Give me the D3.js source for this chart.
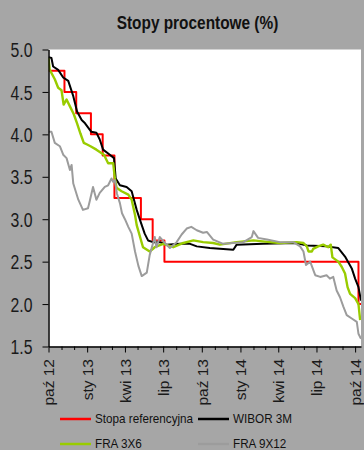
<!DOCTYPE html>
<html lang="pl">
<head>
<meta charset="UTF-8">
<title>Stopy procentowe (%)</title>
<script src="https://d3js.org/d3.v7.min.js"></script>
<style>
    body { margin: 0; background: #a6a6a6; }
    svg { display: block; font-family: "Liberation Sans", Arial, sans-serif; }
    .axis path, .axis line { stroke: #000; }
    .axis text { fill: #1a1a1a; }
    .series { fill: none; stroke-linejoin: round; }
</style>
</head>
<body>
<script>
// ---- data ----
var seriesNames = ["Stopa referencyjna", "WIBOR 3M", "FRA 3X6", "FRA 9X12"];
var seriesColors = ["#ff0000", "#000000", "#99cc00", "#9c9c9c"];

var refRate = [
    ["2012-10-01", 4.75], ["2012-11-08", 4.50], ["2012-12-06", 4.25],
    ["2013-01-10", 4.00], ["2013-02-07", 3.75], ["2013-03-07", 3.25],
    ["2013-05-09", 3.00], ["2013-06-06", 2.75], ["2013-07-04", 2.50],
    ["2014-10-09", 2.00], ["2014-10-15", 2.00]
];

var wibor3m = [
    ["2012-10-01", 4.91], ["2012-10-08", 4.90], ["2012-10-12", 4.80], ["2012-10-24", 4.76],
    ["2012-11-05", 4.67], ["2012-11-17", 4.63], ["2012-11-29", 4.45], ["2012-12-08", 4.27],
    ["2012-12-19", 4.17], ["2012-12-27", 4.13], ["2013-01-11", 4.03], ["2013-01-23", 4.02],
    ["2013-01-31", 3.94], ["2013-02-08", 3.82], ["2013-02-24", 3.76], ["2013-03-06", 3.72],
    ["2013-03-10", 3.48], ["2013-03-20", 3.40], ["2013-04-05", 3.38], ["2013-04-17", 3.33],
    ["2013-04-29", 3.11], ["2013-05-07", 2.99], ["2013-05-18", 2.83], ["2013-05-26", 2.75],
    ["2013-06-07", 2.73], ["2013-06-23", 2.73], ["2013-07-09", 2.70], ["2013-08-10", 2.71],
    ["2013-09-03", 2.71], ["2013-09-19", 2.68], ["2013-10-20", 2.66], ["2013-12-15", 2.64],
    ["2013-12-23", 2.70], ["2014-02-24", 2.71], ["2014-05-15", 2.72], ["2014-06-08", 2.69],
    ["2014-07-25", 2.68], ["2014-08-22", 2.66], ["2014-09-07", 2.56], ["2014-09-23", 2.42],
    ["2014-10-01", 2.30], ["2014-10-09", 2.20], ["2014-10-15", 2.04]
];

var fra3x6 = [
    ["2012-10-01", 4.90], ["2012-10-04", 4.76], ["2012-10-16", 4.65], ["2012-10-24", 4.55],
    ["2012-11-01", 4.52], ["2012-11-06", 4.35], ["2012-11-13", 4.41], ["2012-11-21", 4.33],
    ["2012-11-30", 4.24], ["2012-12-08", 4.13], ["2012-12-16", 4.01], ["2012-12-24", 3.90],
    ["2013-01-01", 3.88], ["2013-01-09", 3.86], ["2013-01-23", 3.82], ["2013-02-10", 3.76],
    ["2013-02-20", 3.66], ["2013-03-04", 3.66], ["2013-03-08", 3.48], ["2013-03-12", 3.37],
    ["2013-03-24", 3.33], ["2013-04-09", 3.29], ["2013-04-17", 3.23], ["2013-04-25", 3.05],
    ["2013-04-29", 2.93], ["2013-05-07", 2.79], ["2013-05-14", 2.67], ["2013-05-30", 2.62],
    ["2013-06-11", 2.67], ["2013-07-01", 2.71], ["2013-07-25", 2.67], ["2013-08-18", 2.72],
    ["2013-09-11", 2.75], ["2013-10-04", 2.73], ["2013-10-28", 2.72], ["2013-11-13", 2.70],
    ["2013-12-23", 2.73], ["2014-02-01", 2.75], ["2014-03-12", 2.73], ["2014-04-05", 2.72],
    ["2014-05-15", 2.73], ["2014-05-31", 2.72], ["2014-06-08", 2.68], ["2014-06-12", 2.62],
    ["2014-06-20", 2.62], ["2014-06-23", 2.65], ["2014-07-05", 2.68], ["2014-07-17", 2.70],
    ["2014-07-29", 2.67], ["2014-08-04", 2.70], ["2014-08-08", 2.55], ["2014-08-22", 2.50],
    ["2014-08-30", 2.44], ["2014-09-07", 2.36], ["2014-09-13", 2.20], ["2014-09-19", 2.12],
    ["2014-10-01", 2.07], ["2014-10-09", 2.00], ["2014-10-13", 1.81]
];

var fra9x12 = [
    ["2012-10-01", 4.03], ["2012-10-08", 4.03], ["2012-10-16", 3.90], ["2012-10-28", 3.86],
    ["2012-11-05", 3.76], ["2012-11-13", 3.72], ["2012-11-21", 3.58], ["2012-11-25", 3.64],
    ["2012-11-29", 3.42], ["2012-12-11", 3.23], ["2012-12-22", 3.11], ["2013-01-03", 3.13],
    ["2013-01-07", 3.21], ["2013-01-15", 3.38], ["2013-01-23", 3.23], ["2013-01-31", 3.31],
    ["2013-02-12", 3.38], ["2013-02-20", 3.40], ["2013-02-28", 3.48], ["2013-03-04", 3.44],
    ["2013-03-08", 3.46], ["2013-03-13", 3.30], ["2013-03-20", 3.19], ["2013-03-25", 3.07],
    ["2013-04-01", 3.00], ["2013-04-09", 2.91], ["2013-04-17", 2.83], ["2013-04-25", 2.62],
    ["2013-05-03", 2.45], ["2013-05-11", 2.33], ["2013-05-23", 2.37], ["2013-05-30", 2.58],
    ["2013-06-07", 2.72], ["2013-06-11", 2.79], ["2013-06-15", 2.67], ["2013-06-23", 2.79],
    ["2013-07-05", 2.72], ["2013-07-17", 2.66], ["2013-08-02", 2.73], ["2013-08-14", 2.82],
    ["2013-08-26", 2.89], ["2013-09-06", 2.91], ["2013-09-19", 2.87], ["2013-10-04", 2.84],
    ["2013-10-13", 2.85], ["2013-10-28", 2.76], ["2013-11-21", 2.71], ["2013-12-15", 2.72],
    ["2014-01-08", 2.73], ["2014-01-28", 2.79], ["2014-02-01", 2.86], ["2014-02-12", 2.78],
    ["2014-03-05", 2.76], ["2014-04-05", 2.73], ["2014-05-07", 2.73], ["2014-05-23", 2.68],
    ["2014-05-31", 2.62], ["2014-06-06", 2.46], ["2014-06-16", 2.50], ["2014-06-28", 2.34],
    ["2014-07-10", 2.32], ["2014-07-25", 2.34], ["2014-08-02", 2.30], ["2014-08-10", 2.32],
    ["2014-08-18", 2.16], ["2014-08-26", 2.08], ["2014-09-03", 1.97], ["2014-09-11", 1.87],
    ["2014-09-23", 1.83], ["2014-10-05", 1.79], ["2014-10-09", 1.65], ["2014-10-15", 1.59]
];

var yTicks = [1.5, 2.0, 2.5, 3.0, 3.5, 4.0, 4.5, 5.0];
var xTickLabels = ["paź 12", "sty 13", "kwi 13", "lip 13", "paź 13", "sty 14", "kwi 14", "lip 14", "paź 14"];

// ---- layout ----
var W = 364, H = 450;
var plot = { left: 48.5, right: 361, top: 49.5, bottom: 346.5 };
var parse = d3.timeParse("%Y-%m-%d");

var svg = d3.select("body").append("svg")
    .attr("width", W)
    .attr("height", H);

svg.append("rect")
    .attr("width", W).attr("height", H)
    .attr("fill", "#a6a6a6");

var x = d3.scaleTime()
    .domain([parse("2012-10-01"), parse("2014-10-15")])
    .range([plot.left, plot.right]);

var y = d3.scaleLinear()
    .domain([1.5, 5.0])
    .range([plot.bottom, plot.top]);

// plot area
svg.append("rect")
    .attr("x", plot.left).attr("y", plot.top)
    .attr("width", plot.right - plot.left)
    .attr("height", plot.bottom - plot.top)
    .attr("fill", "#fff");

svg.append("clipPath").attr("id", "clip")
    .append("rect")
    .attr("x", plot.left).attr("y", plot.top - 2)
    .attr("width", plot.right - plot.left)
    .attr("height", plot.bottom - plot.top + 2);

// title
svg.append("text")
    .attr("transform", "translate(197.5,29) scale(1,1.25)")
    .attr("text-anchor", "middle")
    .style("font-size", "15.4px")
    .style("font-weight", "bold")
    .attr("fill", "#111")
    .text("Stopy procentowe (%)");

// series lines
var allSeries = [refRate, wibor3m, fra3x6, fra9x12];
var lineStep = d3.line()
    .x(function(d) { return x(parse(d[0])); })
    .y(function(d) { return y(d[1]); })
    .curve(d3.curveStepAfter);
var lineFree = d3.line()
    .x(function(d) { return x(parse(d[0])); })
    .y(function(d) { return y(d[1]); });

var g = svg.append("g").attr("clip-path", "url(#clip)");
allSeries.forEach(function(s, i) {
    g.append("path")
        .attr("class", "series")
        .attr("d", i === 0 ? lineStep(s) : lineFree(s))
        .attr("stroke", seriesColors[i])
        .attr("stroke-width", i === 2 ? 2.4 : 2);
});

// y axis
var yAxis = d3.axisLeft(y)
    .tickValues(yTicks)
    .tickSize(6)
    .tickSizeOuter(0)
    .tickFormat(d3.format(".1f"));

var gy = svg.append("g")
    .attr("class", "axis")
    .attr("transform", "translate(" + plot.left + ",0)")
    .call(yAxis);
gy.select(".domain").attr("stroke-width", 1.5);
gy.selectAll(".tick line").attr("stroke", "#333");
gy.selectAll("text")
    .attr("x", -16)
    .attr("dy", "0.36em")
    .attr("transform", "scale(1,1.25)")
    .style("font-size", "15.8px");

// x axis: monthly ticks, labels every quarter
var months = d3.timeMonth.range(parse("2012-10-01"), parse("2014-10-02"));
var xAxis = d3.axisBottom(x)
    .tickValues(months)
    .tickSize(0)
    .tickSizeOuter(0)
    .tickFormat(function(d, i) { return i % 3 === 0 ? xTickLabels[i / 3] : ""; });

var gx = svg.append("g")
    .attr("class", "axis")
    .attr("transform", "translate(0," + plot.bottom + ")")
    .call(xAxis);
gx.select(".domain").attr("stroke-width", 1.5);
gx.selectAll(".tick line")
    .attr("stroke", "#333")
    .attr("y2", function(d, i) { return i % 3 === 0 ? 6 : 3.5; });
gx.selectAll("text")
    .attr("transform", "rotate(-90)")
    .attr("text-anchor", "end")
    .attr("x", -12.5)
    .attr("y", 0)
    .attr("dy", "0.34em")
    .style("font-size", "15.5px");

// legend
var legendPos = [[60, 419], [198, 419], [60, 444], [198, 444]];
seriesNames.forEach(function(name, i) {
    var lg = svg.append("g")
        .attr("transform", "translate(" + legendPos[i][0] + "," + legendPos[i][1] + ")");
    lg.append("line")
        .attr("x1", 0).attr("x2", 31)
        .attr("stroke", seriesColors[i])
        .attr("stroke-width", 2.5);
    lg.append("text")
        .attr("transform", "translate(35,4.3) scale(1,1.1)")
        .style("font-size", "11.7px")
        .attr("fill", "#111")
        .text(name);
});
</script>
</body>
</html>
